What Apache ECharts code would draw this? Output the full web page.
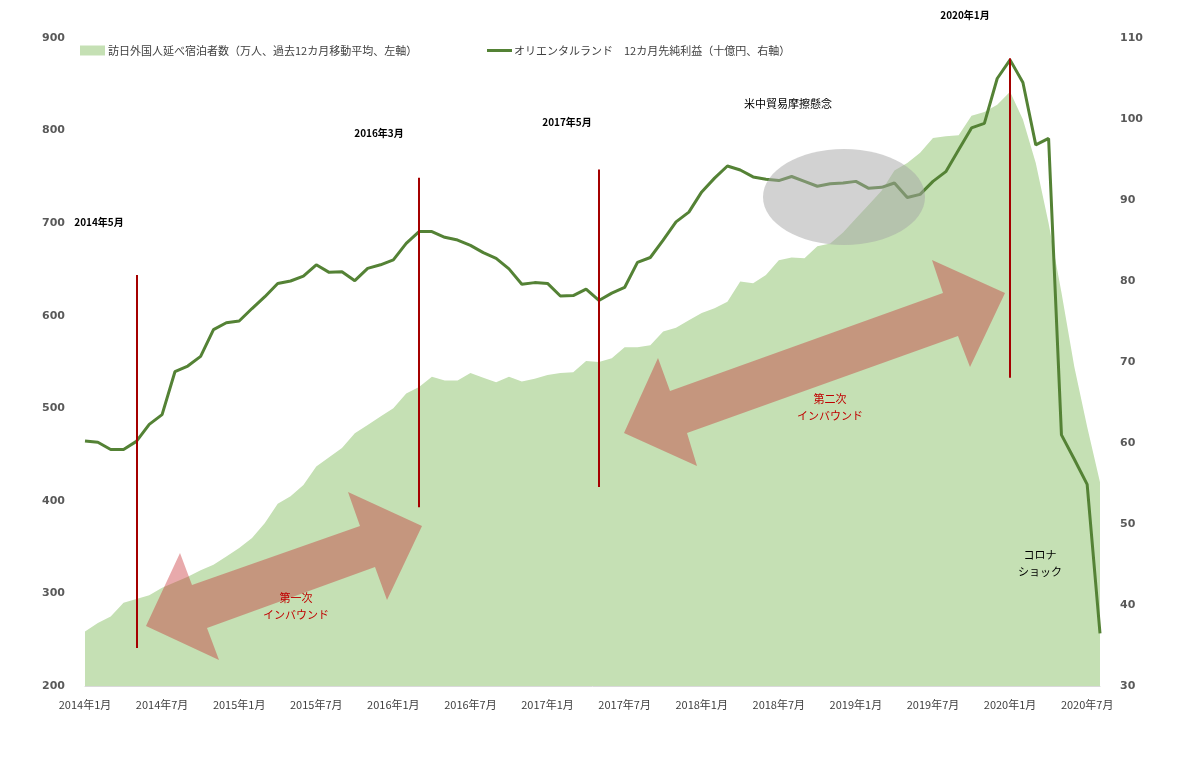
<!DOCTYPE html>
<html>
<head>
<meta charset="utf-8">
<script src="https://cdn.jsdelivr.net/npm/echarts@6/dist/echarts.min.js"></script>
<style>
html,body{margin:0;padding:0;background:#fff;}
#chart{width:1185px;height:780px;}
</style>
</head>
<body>
<div id="chart"></div>
<script>
// categories: monthly 2014年1月 .. 2020年8月
const months = [];
for (let y = 2014; y <= 2020; y++) {
  for (let m = 1; m <= 12; m++) {
    if (y === 2020 && m > 8) break;
    months.push(y + '年' + m + '月');
  }
}

// 訪日外国人延べ宿泊者数（万人、過去12カ月移動平均）
const visitors = [259,268,275,290,294,298,306,312,318,325,
  331,340,349,360,376,397,405,417,437,447,
  457,473,482,491,500,516,523,534,530,530,
  538,533,528,534,529,532,536,538,539,551,
  550,554,566,566,568,583,587,595,603,608,
  615,637,635,644,660,663,662,675,678,690,
  705,720,735,757,765,776,792,794,795,816,
  820,828,842,812,765,700,625,545,480,420];

// オリエンタルランド 12カ月先純利益（十億円）
const profit = [60.25,60.1,59.2,59.2,60.2,62.3,63.5,68.8,69.5,70.7,
  74.0,74.85,75.06,76.6,78.06,79.7,80.0,80.6,82.0,81.07,
  81.15,80.04,81.56,82.0,82.6,84.65,86.1,86.1,85.4,85.06,
  84.4,83.5,82.8,81.5,79.6,79.8,79.7,78.15,78.2,79.0,
  77.6,78.5,79.2,82.3,82.9,85.06,87.3,88.5,91.0,92.7,
  94.2,93.7,92.85,92.55,92.4,92.9,92.3,91.7,92.0,92.1,
  92.3,91.44,91.56,92.1,90.3,90.7,92.3,93.5,96.2,98.9,
  99.45,105.0,107.3,104.5,96.8,97.6,61.0,58.0,54.9,36.5];

// event lines (category, left-axis from, to)
const eventCats = ['2014年5月','2016年3月','2017年5月','2020年1月'];
const eventFrom = [241, 393, 415, 533];
const eventTo   = [644, 749, 758, 878];

const leftTicks = {min:200, max:900, interval:100};
const rightTicks = {min:30, max:110, interval:10};

const nameA = '訪日外国人延べ宿泊者数（万人、過去12カ月移動平均、左軸）';
const nameB = 'オリエンタルランド　12カ月先純利益（十億円、右軸）';

const FONT = '"Noto Sans CJK JP", "Noto Sans", sans-serif';
const arrowFill = 'rgba(197,40,45,0.40)';

const chart = echarts.init(document.getElementById('chart'));

const markData = eventCats.map((c, i) => [
  {coord: [c, eventFrom[i]]},
  {coord: [c, eventTo[i]]}
]);

function txt(x, y, text, opts) {
  return Object.assign({
    type: 'text', x: x, y: y, z: 100,
    style: Object.assign({
      text: text, align: 'center', verticalAlign: 'middle',
      fontFamily: FONT, fontSize: 10, fill: '#000', lineHeight: 17
    }, opts || {})
  });
}

chart.setOption({
  animation: false,
  textStyle: {fontFamily: FONT},
  grid: {left: 85, right: 85, top: 38, bottom: 94, containLabel: false},
  legend: [
    {data: [nameA], left: 75, top: 40, itemWidth: 25, itemHeight: 10, itemGap: 4, icon: 'rect',
     textStyle: {fontSize: 11, color: '#404040', fontFamily: FONT, padding: [0, 0, 0, -2]}},
    {data: [nameB], left: 482, top: 40, itemWidth: 25, itemHeight: 3, icon: 'rect',
     textStyle: {fontSize: 11, color: '#404040', fontFamily: FONT, padding: [0, 0, 0, -3]}}
  ],
  xAxis: {
    type: 'category', data: months, boundaryGap: false,
    axisLine: {lineStyle: {color: '#d9d9d9'}},
    axisTick: {show: false},
    axisLabel: {interval: 5, margin: 13, fontSize: 11, color: '#404040', fontFamily: FONT}
  },
  yAxis: [
    {type: 'value', min: leftTicks.min, max: leftTicks.max, interval: leftTicks.interval,
     splitLine: {show: false}, axisLine: {show: false}, axisTick: {show: false},
     axisLabel: {margin: 20, fontSize: 11, fontWeight: 'bold', color: '#595959', fontFamily: '"DejaVu Sans", sans-serif'}},
    {type: 'value', min: rightTicks.min, max: rightTicks.max, interval: rightTicks.interval,
     splitLine: {show: false}, axisLine: {show: false}, axisTick: {show: false},
     axisLabel: {margin: 20, fontSize: 11, fontWeight: 'bold', color: '#595959', fontFamily: '"DejaVu Sans", sans-serif'}}
  ],
  series: [
    {
      name: nameA, type: 'line', yAxisIndex: 0, data: visitors,
      symbol: 'none', lineStyle: {width: 0, color: '#c5e0b4'},
      itemStyle: {color: '#c5e0b4'},
      areaStyle: {color: '#c5e0b4', opacity: 1}, z: 1,
      markLine: {
        silent: true, symbol: ['none', 'none'], z: 5,
        label: {show: false},
        lineStyle: {color: '#a50000', width: 2, type: 'solid'},
        data: markData
      }
    },
    {
      name: nameB, type: 'line', yAxisIndex: 1, data: profit,
      symbol: 'none', showSymbol: false,
      lineStyle: {width: 3, color: '#548235'},
      itemStyle: {color: '#548235'}, z: 3
    }
  ],
  graphic: [
    {type: 'polygon', z: 90, silent: true,
     shape: {points: [[146,626],[180,553],[192,585],[360,526],[348,492],[422,526],[387,600],[375,567],[207,628],[219,660]]},
     style: {fill: arrowFill}},
    {type: 'polygon', z: 90, silent: true,
     shape: {points: [[624,433],[658,358],[670,391],[943,293],[932,260],[1005,293],[970,367],[958,336],[687,433],[697,466]]},
     style: {fill: arrowFill}},
    {type: 'ellipse', z: 95, silent: true,
     shape: {cx: 844, cy: 197, rx: 81, ry: 48},
     style: {fill: 'rgba(165,165,165,0.5)'}},
    txt(99, 222, '2014年5月', {fontWeight: 'bold'}),
    txt(379, 133, '2016年3月', {fontWeight: 'bold'}),
    txt(567, 122, '2017年5月', {fontWeight: 'bold'}),
    txt(965, 15, '2020年1月', {fontWeight: 'bold'}),
    txt(788, 104, '米中貿易摩擦懸念', {fontSize: 11}),
    txt(1040, 563, 'コロナ\nショック', {fontSize: 11}),
    txt(296, 606, '第一次\nインバウンド', {fontSize: 11, fill: '#c00000'}),
    txt(830, 407, '第二次\nインバウンド', {fontSize: 11, fill: '#c00000'})
  ]
});
</script>
</body>
</html>
